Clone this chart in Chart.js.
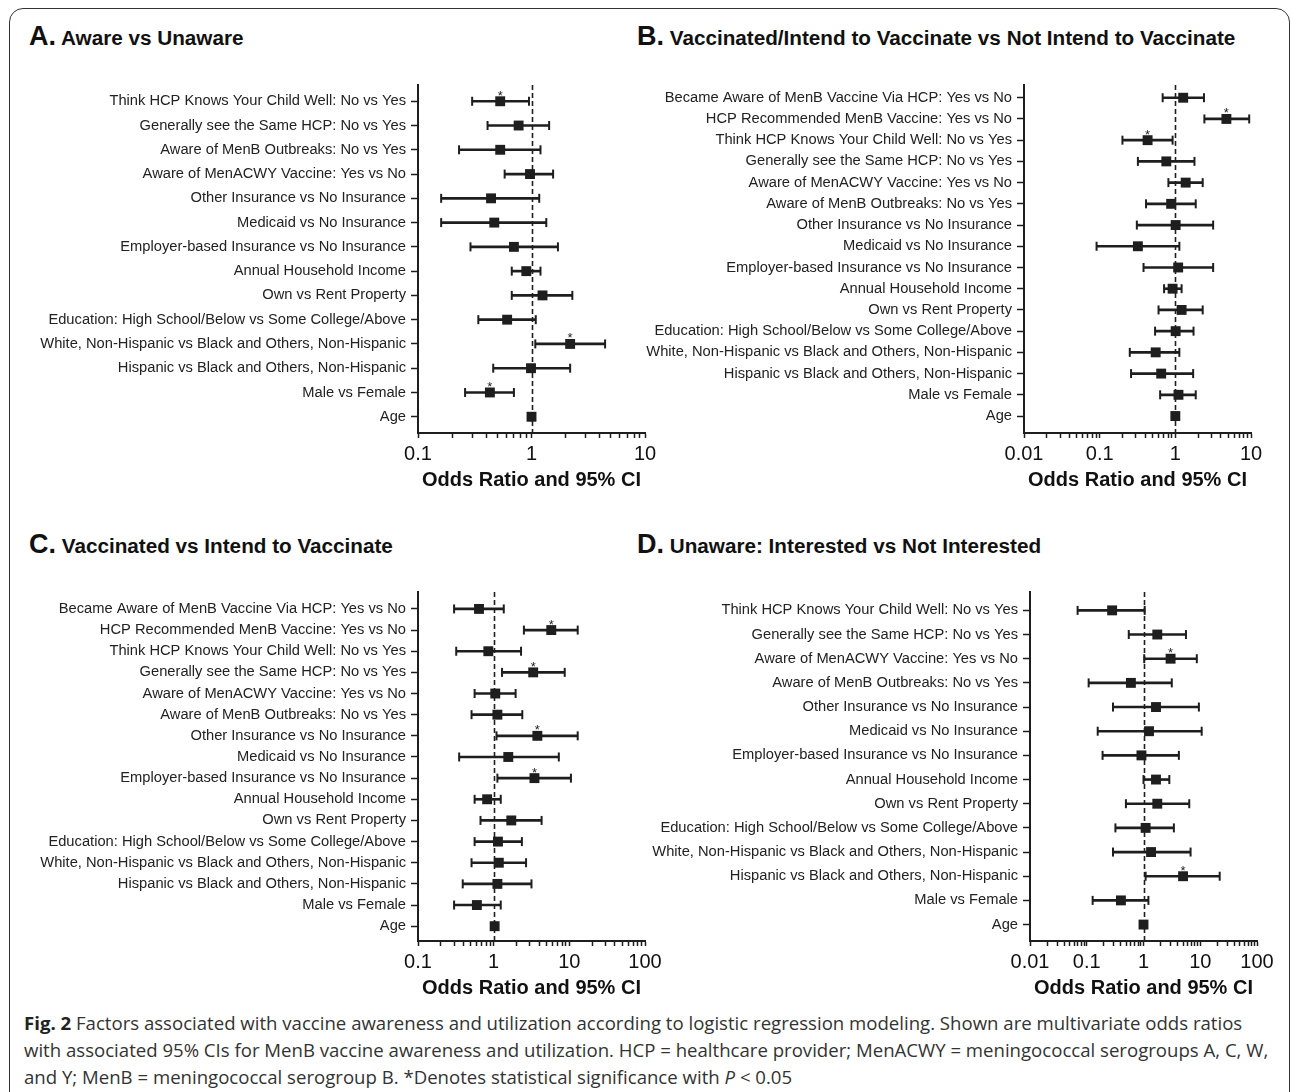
<!DOCTYPE html>
<html>
<head>
<meta charset="utf-8">
<script src="https://cdn.jsdelivr.net/npm/chart.js@4.4.1/dist/chart.umd.min.js"></script>
<style>
  html, body { margin: 0; padding: 0; background: #fff; }
  body { width: 1292px; height: 1092px; position: relative; overflow: hidden; font-family: 'Liberation Sans', Arial, sans-serif; }
  .frame { position: absolute; left: 9px; top: 8px; width: 1281px; height: 1110px; border: 1.5px solid #333; border-radius: 14px; box-sizing: border-box; }
  .ttl { position: absolute; font-weight: bold; font-size: 20.7px; line-height: 30px; color: #111; white-space: nowrap; }
  .ttl b { font-size: 27px; }
  canvas { position: absolute; }
  .cap { position: absolute; left: 24px; top: 1009px; font-family: 'Open Sans', sans-serif; font-size: 18.6px; line-height: 27px; color: #333; white-space: nowrap; }
  .cap b { color: #222; }
</style>
</head>
<body>
<div class="frame"></div>
<div class="ttl" style="left:29px; top:21px"><b>A.</b> Aware vs Unaware</div>
<div class="ttl" style="left:637px; top:21px"><b>B.</b> Vaccinated/Intend to Vaccinate vs Not Intend to Vaccinate</div>
<div class="ttl" style="left:29px; top:529px"><b>C.</b> Vaccinated vs Intend to Vaccinate</div>
<div class="ttl" style="left:637px; top:529px"><b>D.</b> Unaware: Interested vs Not Interested</div>
<canvas id="chartA"></canvas>
<canvas id="chartB"></canvas>
<canvas id="chartC"></canvas>
<canvas id="chartD"></canvas>
<div class="cap">
<b>Fig. 2</b> Factors associated with vaccine awareness and utilization according to logistic regression modeling. Shown are multivariate odds ratios<br>
with associated 95% CIs for MenB vaccine awareness and utilization. HCP = healthcare provider; MenACWY = meningococcal serogroups A, C, W,<br>
and Y; MenB = meningococcal serogroup B. *Denotes statistical significance with <i>P</i> &lt; 0.05
</div>
<script>
// row labels
const labelsA = [
    'Think HCP Knows Your Child Well: No vs Yes',
    'Generally see the Same HCP: No vs Yes',
    'Aware of MenB Outbreaks: No vs Yes',
    'Aware of MenACWY Vaccine: Yes vs No',
    'Other Insurance vs No Insurance',
    'Medicaid vs No Insurance',
    'Employer-based Insurance vs No Insurance',
    'Annual Household Income',
    'Own vs Rent Property',
    'Education: High School/Below vs Some College/Above',
    'White, Non-Hispanic vs Black and Others, Non-Hispanic',
    'Hispanic vs Black and Others, Non-Hispanic',
    'Male vs Female',
    'Age'
];
const labelsB = [
    'Became Aware of MenB Vaccine Via HCP: Yes vs No',
    'HCP Recommended MenB Vaccine: Yes vs No',
    'Think HCP Knows Your Child Well: No vs Yes',
    'Generally see the Same HCP: No vs Yes',
    'Aware of MenACWY Vaccine: Yes vs No',
    'Aware of MenB Outbreaks: No vs Yes',
    'Other Insurance vs No Insurance',
    'Medicaid vs No Insurance',
    'Employer-based Insurance vs No Insurance',
    'Annual Household Income',
    'Own vs Rent Property',
    'Education: High School/Below vs Some College/Above',
    'White, Non-Hispanic vs Black and Others, Non-Hispanic',
    'Hispanic vs Black and Others, Non-Hispanic',
    'Male vs Female',
    'Age'
];
const labelsC = labelsB.slice();
const labelsD = [
    'Think HCP Knows Your Child Well: No vs Yes',
    'Generally see the Same HCP: No vs Yes',
    'Aware of MenACWY Vaccine: Yes vs No',
    'Aware of MenB Outbreaks: No vs Yes',
    'Other Insurance vs No Insurance',
    'Medicaid vs No Insurance',
    'Employer-based Insurance vs No Insurance',
    'Annual Household Income',
    'Own vs Rent Property',
    'Education: High School/Below vs Some College/Above',
    'White, Non-Hispanic vs Black and Others, Non-Hispanic',
    'Hispanic vs Black and Others, Non-Hispanic',
    'Male vs Female',
    'Age'
];

// odds ratios, lower / upper 95% CI, significance flag
const orA  = [0.53, 0.77, 0.53, 0.97, 0.44, 0.47, 0.70, 0.90, 1.25, 0.61, 2.19, 0.99, 0.43, 1.00];
const loA  = [0.30, 0.41, 0.23, 0.58, 0.16, 0.16, 0.29, 0.67, 0.67, 0.34, 1.08, 0.46, 0.26, 0.98];
const hiA  = [0.95, 1.43, 1.20, 1.55, 1.17, 1.35, 1.71, 1.20, 2.29, 1.09, 4.45, 2.19, 0.70, 1.02];
const sigA = [1, 0, 0, 0, 0, 0, 0, 0, 0, 0, 1, 0, 1, 0];

const orB  = [1.27, 4.73, 0.43, 0.76, 1.37, 0.88, 1.01, 0.32, 1.09, 0.92, 1.21, 1.01, 0.55, 0.65, 1.10, 1.00];
const loB  = [0.68, 2.42, 0.20, 0.32, 0.81, 0.41, 0.31, 0.091, 0.38, 0.71, 0.60, 0.54, 0.25, 0.26, 0.63, 0.98];
const hiB  = [2.39, 9.47, 0.92, 1.79, 2.30, 1.86, 3.16, 1.13, 3.16, 1.21, 2.30, 1.74, 1.13, 1.72, 1.86, 1.02];
const sigB = [0, 1, 1, 0, 0, 0, 0, 0, 0, 0, 0, 0, 0, 0, 0, 0];

const orC  = [0.64, 5.77, 0.85, 3.33, 1.05, 1.12, 3.78, 1.56, 3.46, 0.82, 1.71, 1.14, 1.17, 1.12, 0.60, 1.03];
const loC  = [0.30, 2.51, 0.32, 1.29, 0.56, 0.51, 1.09, 0.35, 1.12, 0.56, 0.67, 0.56, 0.51, 0.39, 0.30, 1.00];
const hiC  = [1.36, 12.9, 2.30, 8.69, 1.95, 2.39, 12.9, 7.26, 10.5, 1.24, 4.30, 2.36, 2.68, 3.16, 1.24, 1.06];
const sigC = [0, 1, 0, 1, 0, 0, 1, 0, 1, 0, 0, 0, 0, 0, 0, 0];

const orD  = [0.28, 1.75, 3.00, 0.60, 1.66, 1.25, 0.92, 1.66, 1.75, 1.09, 1.36, 4.98, 0.40, 1.00];
const loD  = [0.069, 0.55, 1.03, 0.108, 0.29, 0.156, 0.19, 1.00, 0.49, 0.32, 0.29, 1.09, 0.127, 0.98];
const hiD  = [1.05, 5.6, 8.7, 3.15, 9.46, 10.6, 4.2, 2.85, 6.4, 3.43, 6.75, 22, 1.22, 1.02];
const sigD = [0, 0, 1, 0, 0, 0, 0, 0, 0, 0, 0, 1, 0, 0];

// x axis decades
const xTicksA = [0.1, 1, 10];
const xTicksB = [0.01, 0.1, 1, 10];
const xTicksC = [0.1, 1, 10, 100];
const xTicksD = [0.01, 0.1, 1, 10, 100];

const INK = '#1e1e1e';
Chart.defaults.font.family = "'Liberation Sans', Arial, sans-serif";

// dashed line at OR = 1, whisker caps and asterisks
const forestMarks = {
    id: 'forestMarks',
    beforeDatasetsDraw(chart) {
        const {ctx, chartArea, scales: {x}} = chart;
        const px = Math.round(x.getPixelForValue(1)) + 0.5;
        ctx.save();
        ctx.strokeStyle = INK;
        ctx.lineWidth = 1.6;
        ctx.setLineDash([5, 3]);
        ctx.beginPath();
        ctx.moveTo(px, chartArea.top);
        ctx.lineTo(px, chartArea.bottom);
        ctx.stroke();
        ctx.restore();
    },
    afterDatasetsDraw(chart, args, opts) {
        const {ctx, scales: {x, y}} = chart;
        ctx.save();
        ctx.strokeStyle = INK;
        ctx.fillStyle = INK;
        ctx.lineWidth = 2;
        ctx.font = '13px Liberation Sans, Arial, sans-serif';
        ctx.textAlign = 'center';
        ctx.textBaseline = 'alphabetic';
        opts.lo.forEach((lo, i) => {
            const py = y.getPixelForValue(i);
            [lo, opts.hi[i]].forEach(v => {
                const px = x.getPixelForValue(v);
                ctx.beginPath();
                ctx.moveTo(px, py - 4.5);
                ctx.lineTo(px, py + 4.5);
                ctx.stroke();
            });
            if (opts.sig[i]) {
                ctx.fillText('*', x.getPixelForValue(opts.or[i]), py - 1.5);
            }
        });
        ctx.restore();
    }
};

function forestChart(id, p, labels, or, lo, hi, sig, xTicks) {
    const cv = document.getElementById(id);
    const top = p.plotTop - 20;
    cv.width = p.plotRight + 28 - p.left;
    cv.height = p.plotBottom + 67 - top;
    cv.style.left = p.left + 'px';
    cv.style.top = top + 'px';

    return new Chart(cv, {
        type: 'bar',
        data: {
            datasets: [
                {
                    type: 'scatter',
                    data: or.map((v, i) => ({x: v, y: i})),
                    pointStyle: 'rect',
                    pointRadius: 7,
                    pointHoverRadius: 7,
                    backgroundColor: INK,
                    borderWidth: 0,
                    order: 0
                }, {
                    type: 'bar',
                    indexAxis: 'y',
                    data: lo.map((v, i) => ({x: [v, hi[i]], y: i})),
                    barThickness: 2,
                    backgroundColor: INK,
                    borderWidth: 0,
                    order: 1
                }
            ]
        },
        options: {
            responsive: false,
            animation: false,
            devicePixelRatio: 1,
            layout: {padding: {top: 20, right: 28, left: 0, bottom: 0}},
            plugins: {
                legend: {display: false},
                tooltip: {enabled: false},
                forestMarks: {lo: lo, hi: hi, or: or, sig: sig}
            },
            scales: {
                x: {
                    type: 'logarithmic',
                    min: xTicks[0],
                    max: xTicks[xTicks.length - 1],
                    offset: false,
                    afterBuildTicks(s) {
                        const t = [];
                        xTicks.forEach((d, k) => {
                            t.push({value: d});
                            if (k < xTicks.length - 1) {
                                for (let m = 2; m <= 9; m++) t.push({value: d * m});
                            }
                        });
                        s.ticks = t;
                    },
                    afterFit(s) { s.height = 67; },
                    ticks: {
                        autoSkip: false,
                        maxRotation: 0,
                        padding: 4,
                        color: '#111',
                        font: {size: 20},
                        callback: v => xTicks.includes(v) ? String(v) : ''
                    },
                    grid: {drawOnChartArea: false, offset: false, tickLength: 5, tickWidth: 1.5, tickColor: INK},
                    border: {color: INK, width: 2},
                    title: {
                        display: true,
                        text: 'Odds Ratio and 95% CI',
                        color: '#111',
                        font: {size: 20, weight: 'bold'},
                        padding: {top: 0, bottom: 8}
                    }
                },
                y: {
                    type: 'linear',
                    reverse: true,
                    offset: false,
                    min: p.ymin,
                    max: p.ymax,
                    afterBuildTicks(s) { s.ticks = labels.map((_, i) => ({value: i})); },
                    afterFit(s) { s.width = p.plotLeft - p.left; },
                    ticks: {
                        autoSkip: false,
                        padding: 5,
                        color: '#222',
                        font: {size: 14.7},
                        callback: v => labels[v]
                    },
                    grid: {drawOnChartArea: false, offset: false, tickLength: 7, tickWidth: 1.5, tickColor: INK},
                    border: {color: INK, width: 2}
                }
            }
        },
        plugins: [forestMarks]
    });
}

forestChart('chartA', {left: 0, plotLeft: 418, plotRight: 645, plotTop: 85, plotBottom: 433, ymin: -0.67, ymax: 13.67},
    labelsA, orA, loA, hiA, sigA, xTicksA);
forestChart('chartB', {left: 640, plotLeft: 1024, plotRight: 1251, plotTop: 85, plotBottom: 433, ymin: -0.6, ymax: 15.8},
    labelsB, orB, loB, hiB, sigB, xTicksB);
forestChart('chartC', {left: 0, plotLeft: 418, plotRight: 645, plotTop: 592, plotBottom: 941, ymin: -0.8, ymax: 15.7},
    labelsC, orC, loC, hiC, sigC, xTicksC);
forestChart('chartD', {left: 640, plotLeft: 1030, plotRight: 1257, plotTop: 592, plotBottom: 941, ymin: -0.76, ymax: 13.68},
    labelsD, orD, loD, hiD, sigD, xTicksD);
</script>
</body>
</html>
